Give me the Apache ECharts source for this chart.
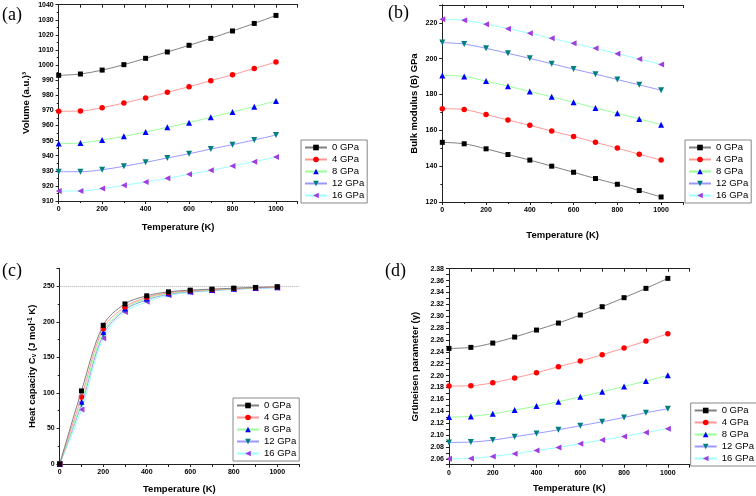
<!DOCTYPE html>
<html>
<head>
<meta charset="utf-8">
<script src="https://cdn.jsdelivr.net/npm/echarts@6/dist/echarts.min.js"></script>
<style>html,body{margin:0;padding:0;background:#fff}#c{width:756px;height:496px}</style>
</head>
<body>
<div id="c"></div>
<script>
const temps = [0,100,200,300,400,500,600,700,800,900,1000];
const pressures = ['0 GPa','4 GPa','8 GPa','12 GPa','16 GPa'];

const volume0 = [993.2,994.1,996.7,1000.3,1004.5,1008.7,1013.1,1017.7,1022.6,1027.6,1032.9];
const volume4 = [969.4,969.6,971.8,974.9,978.2,982.0,985.7,989.7,993.6,997.8,1002.0];
const volume8 = [948.0,948.4,950.4,952.8,955.7,958.8,961.9,965.4,968.9,972.5,976.2];
const volume12 = [929.4,929.4,930.7,933.0,935.6,938.5,941.3,944.4,947.3,950.4,953.7];
const volume16 = [916.6,916.6,918.2,920.4,922.6,925.0,927.7,930.3,933.2,936.0,939.1];

const bulk0 = [153.3,152.5,149.7,146.5,143.4,140.0,136.6,133.1,129.9,126.4,122.8];
const bulk4 = [172.1,171.6,168.8,165.8,162.8,159.6,156.6,153.3,150.1,146.7,143.4];
const bulk8 = [190.7,190.1,187.5,184.7,181.7,178.7,175.7,172.5,169.5,166.4,163.2];
const bulk12 = [209.0,208.2,205.8,203.0,200.2,197.2,194.2,191.4,188.4,185.4,182.4];
const bulk16 = [222.0,221.5,219.3,216.8,214.2,211.4,208.6,205.8,202.8,199.8,196.8];

const heat0 = [0,102.9,195.3,225.4,236.8,242.4,244.8,246.2,247.6,248.6,249.5];
const heat4 = [0,94.4,190.6,221.2,234.5,241.0,243.9,245.5,247.0,248.2,249.1];
const heat8 = [0,87.7,185.8,218.9,233.0,240.0,243.2,245.0,246.6,247.9,248.8];
const heat12 = [0,83.9,181.6,217.0,231.1,239.0,242.4,244.5,246.2,247.6,248.5];
const heat16 = [0,76.8,176.9,214.1,228.3,237.7,241.5,243.9,245.7,247.2,248.1];
const heatLimit = 250;

const gruen0 = [2.2458,2.2475,2.2548,2.2649,2.2767,2.2885,2.302,2.316,2.3312,2.3469,2.3637];
const gruen4 = [2.1824,2.1829,2.188,2.1959,2.2048,2.215,2.2245,2.2352,2.2464,2.2582,2.2705];
const gruen8 = [2.1302,2.1313,2.1358,2.142,2.1487,2.156,2.1644,2.1728,2.1818,2.1908,2.2004];
const gruen12 = [2.0875,2.0881,2.0914,2.0971,2.1027,2.1088,2.1156,2.1223,2.1296,2.1375,2.1442];
const gruen16 = [2.06,2.0606,2.0639,2.0684,2.074,2.0791,2.0853,2.0914,2.0976,2.1044,2.1105];

const markerColors = ['#000000','#ff0000','#0000ff','#008080','#a03ce0'];
const lineColors = ['#808080','#ff9999','#99ff99','#9999ff','#99ffff'];
const symbols = ['rect','circle','triangle','path://M0,0 L10,0 L5,9 Z','path://M10,0 L10,10 L0,5 Z'];
const symbolSizes = [5,5.5,6,6,6];

const panels = [
  {data:[volume0,volume4,volume8,volume12,volume16], grid:{left:58.7,top:4.7,width:239,height:196.3},
   ymin:910,ymax:1040,yint:10, xGap:21, yGap:27, label:'(a)', lx:2, ly:17,
   yname:'Volume (a.u.)³', legend:{left:301,top:140}},
  {data:[bulk0,bulk4,bulk8,bulk12,bulk16], grid:{left:442.3,top:5,width:240.7,height:197},
   ymin:120,ymax:230,yint:20, xGap:28, yGap:23, label:'(b)', lx:388, ly:15,
   yname:'Bulk modulus (B) GPa', legend:{left:685,top:140}},
  {data:[heat0,heat4,heat8,heat12,heat16], grid:{left:59.7,top:268.7,width:239.3,height:195.3},
   ymin:0,ymax:275,yint:50, xGap:20, yGap:22, label:'(c)', lx:2, ly:273,
   yname:'{t|Heat capacity C}{sub|v}{t| (J mol}{sup|-1}{t| K)}', legend:{left:233,top:398}},
  {data:[gruen0,gruen4,gruen8,gruen12,gruen16], grid:{left:449,top:268.7,width:240.7,height:196},
   ymin:2.05,ymax:2.38,yint:0.01, xGap:18.5, yGap:29, label:'(d)', lx:385, ly:273,
   yname:'Grüneisen parameter (γ)', legend:{left:690.7,top:403}, even:true}
];

const FONT = 'Liberation Sans, Arial, sans-serif';
const axisLineStyle = {lineStyle:{color:'#222',width:1}};
const grids = [], xAxes = [], yAxes = [], series = [], legends = [], graphics = [];

panels.forEach((p, g) => {
  grids.push(Object.assign({containLabel:false}, p.grid));
  xAxes.push({
    type:'value', gridIndex:g, position:'bottom', min:0, max:1100, interval:200,
    name:'Temperature (K)', nameLocation:'middle', nameGap:p.xGap,
    nameTextStyle:{fontFamily:FONT, fontWeight:'bold', fontSize:9.5, color:'#000', verticalAlign:'top'},
    axisLine:axisLineStyle, splitLine:{show:false},
    axisTick:{show:true, inside:false, length:3, lineStyle:{color:'#222'}},
    minorTick:{show:true, splitNumber:2, length:2, lineStyle:{color:'#222'}},
    axisLabel:{fontFamily:FONT, fontWeight:'bold', fontSize:7, color:'#000', margin:5, showMaxLabel:false,
      formatter: v => String(v)}
  });
  xAxes.push({
    type:'value', gridIndex:g, position:'top', min:0, max:1100, interval:100,
    axisLine:axisLineStyle, splitLine:{show:false},
    axisTick:{show:true, inside:true, length:3, lineStyle:{color:'#222'}},
    axisLabel:{show:false}
  });
  const yLabel = {fontFamily:FONT, fontWeight:'bold', fontSize:7, color:'#000', margin:5,
    showMaxLabel: p.ymax===1040 || p.ymax===2.38, formatter: v => String(v)};
  if (p.even) {
    yLabel.formatter = v => (Math.round(v*100) % 2 === 0 ? v.toFixed(2) : '');
  }
  yAxes.push({
    type:'value', gridIndex:g, position:'left', min:p.ymin, max:p.ymax, interval:p.yint,
    name:p.yname, nameLocation:'middle', nameGap:p.yGap, nameRotate:90,
    nameTextStyle:{fontFamily:FONT, fontWeight:'bold', fontSize:9.5, color:'#000',
      rich:{t:{fontFamily:FONT, fontWeight:'bold', fontSize:9.5, color:'#000'},
            sub:{fontFamily:FONT, fontWeight:'bold', fontSize:6.5, color:'#000', verticalAlign:'bottom', padding:[4,0,0,0]},
            sup:{fontFamily:FONT, fontWeight:'bold', fontSize:6.5, color:'#000', verticalAlign:'top', padding:[0,0,4,0]}}},
    axisLine:axisLineStyle, splitLine:{show:false},
    axisTick:{show:true, inside:false, length:3, lineStyle:{color:'#222'}},
    minorTick:{show:!p.even, splitNumber:2, length:2, lineStyle:{color:'#222'}},
    axisLabel:yLabel
  });
  yAxes.push({
    type:'value', gridIndex:g, position:'right', min:p.ymin, max:p.ymax, interval:p.even ? 0.02 : p.yint*2,
    axisLine:axisLineStyle, splitLine:{show:false},
    axisTick:{show:true, inside:true, length:3, lineStyle:{color:'#222'}},
    axisLabel:{show:false}
  });
  p.data.forEach((arr, i) => {
    const s = {
      type:'line', name:pressures[i], xAxisIndex:2*g, yAxisIndex:2*g,
      data: temps.map((t, k) => [t, arr[k]]),
      smooth:0.35, symbol:symbols[i], symbolSize:symbolSizes[i], showAllSymbol:true,
      itemStyle:{color:markerColors[i]}, lineStyle:{color:lineColors[i], width:1},
      emphasis:{disabled:true}, animation:false, z: 10 - i
    };
    if (g === 2 && i === 0) {
      s.markLine = {silent:true, symbol:'none', label:{show:false},
        lineStyle:{color:'#aaaaaa', type:'dotted', width:1}, data:[{yAxis:heatLimit}], animation:false};
    }
    series.push(s);
  });
  legends.push({
    orient:'vertical', left:p.legend.left, top:p.legend.top, data:pressures,
    itemWidth:22, itemHeight:7, itemGap:1, padding:[2,3,2,3],
    borderColor:'#888', borderWidth:1, backgroundColor:'#fff', selectedMode:false,
    textStyle:{fontFamily:FONT, fontSize:9.5, color:'#000', lineHeight:11}
  });
  graphics.push({type:'text', left:p.lx, top:p.ly - 11,
    style:{text:p.label, font:'18px "Liberation Serif", "Times New Roman", serif', fill:'#000'}});
});

const chart = echarts.init(document.getElementById('c'), null, {renderer:'canvas'});
chart.setOption({
  animation:false, backgroundColor:'#fff',
  grid:grids, xAxis:xAxes, yAxis:yAxes, series:series, legend:legends, graphic:graphics
});
</script>
</body>
</html>
